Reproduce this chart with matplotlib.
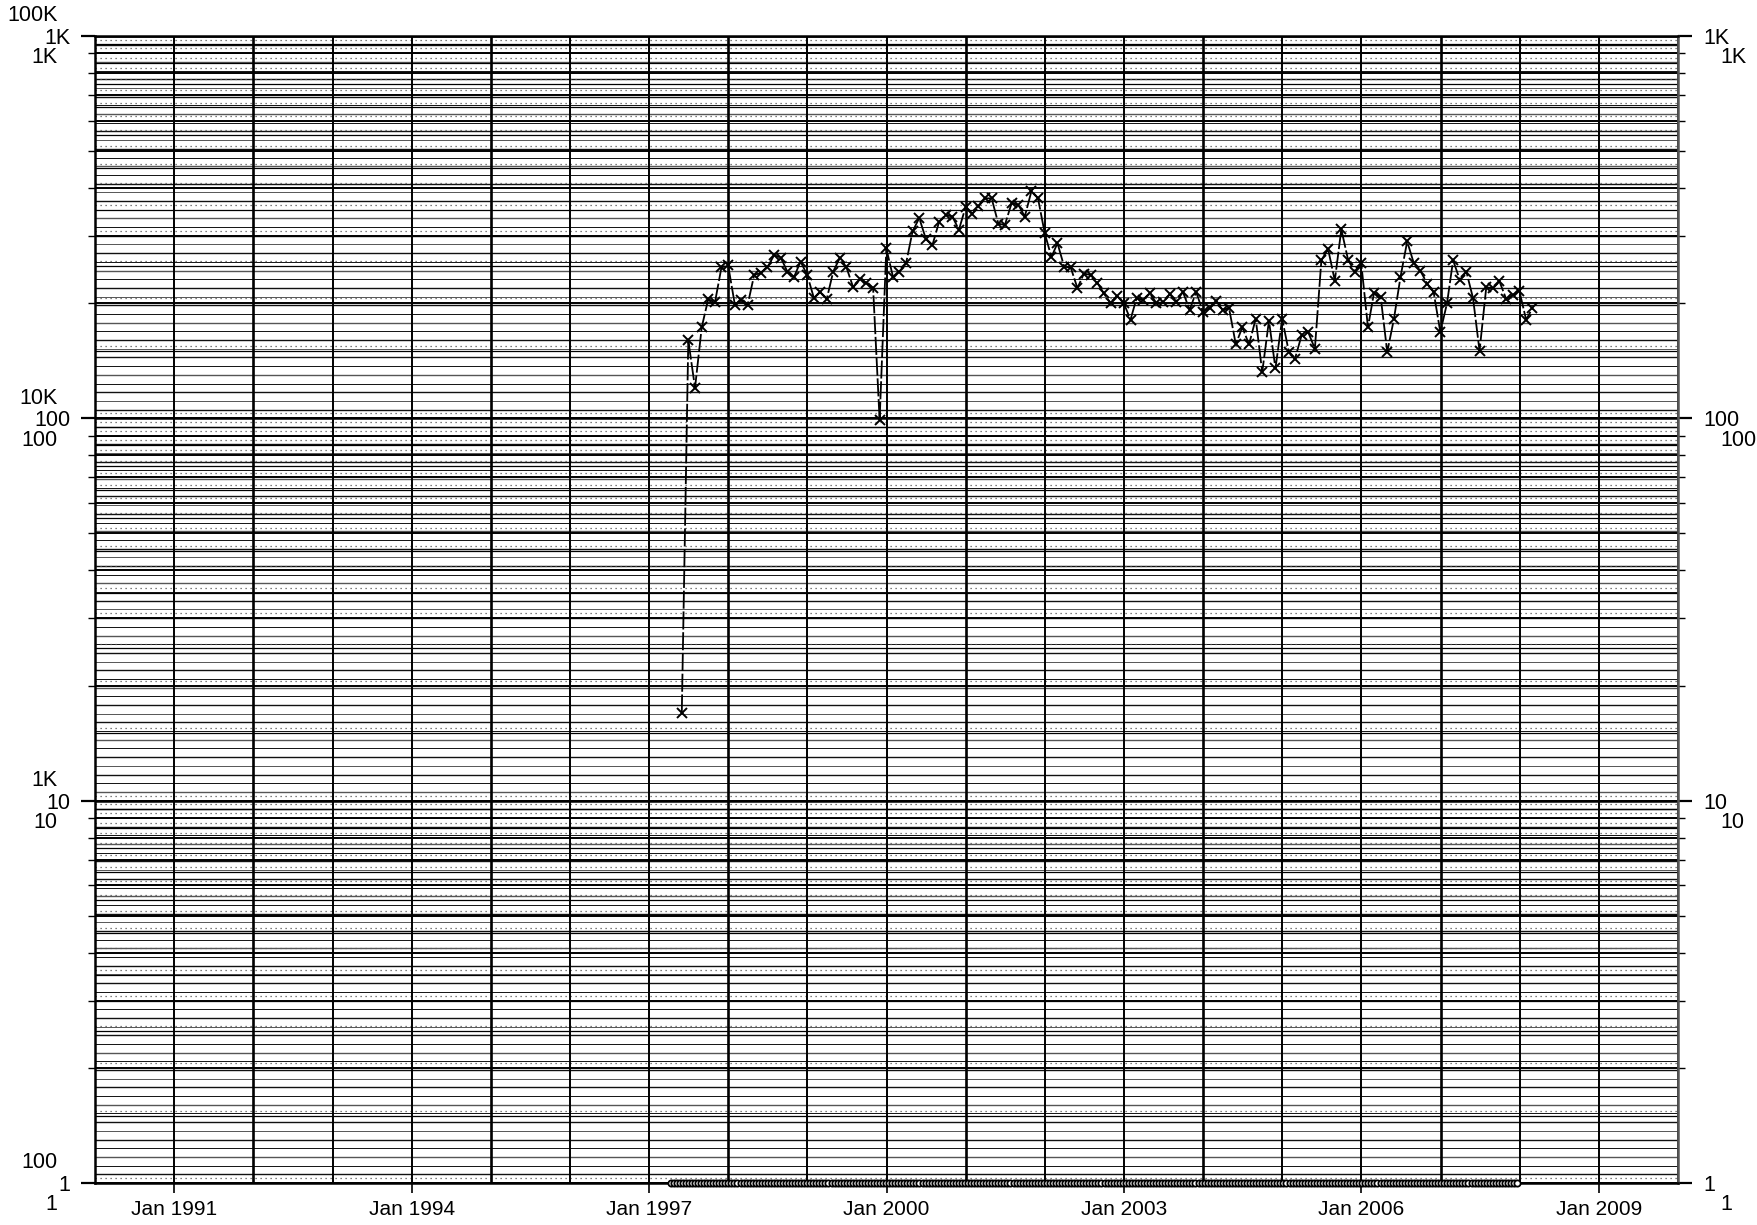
import numpy as np
import pandas as pd
import matplotlib
matplotlib.use("Agg")
import matplotlib.pyplot as plt
from matplotlib import ticker
from matplotlib.transforms import offset_copy

plt.rcParams['font.family'] = ['Liberation Sans', 'DejaVu Sans']

# monthly series, first point end of May 1997
series_start = '1997-05-31'
series_values = [
    17, 160, 120, 173, 205, 201, 248, 251,
    198, 204, 198, 237, 240, 248, 267, 263, 242, 234, 257, 237,
    206, 214, 205, 242, 263, 248, 220, 231, 226, 219, 99, 278,
    234, 242, 254, 308, 334, 295, 284, 327, 340, 337, 311, 357,
    343, 358, 376, 376, 323, 320, 365, 362, 337, 393, 376, 305,
    264, 287, 249, 248, 219, 239, 237, 226, 212, 200, 209, 200,
    181, 206, 204, 212, 200, 201, 211, 202, 214, 192, 214, 190,
    194, 203, 192, 194, 156, 173, 156, 182, 132, 180, 135, 182,
    149, 143, 165, 168, 152, 259, 277, 229, 312, 260, 242, 254,
    173, 213, 207, 149, 182, 234, 290, 254, 243, 225, 214, 168,
    200, 259, 230, 242, 206, 150, 220, 219, 228, 205, 210, 215,
    181, 194,
]

# series sitting on the floor of the log axis
floor_start = '1997-04-10'
floor_end = '2007-12-31'
floor_level = 1

x_ticks = ['1991-01-01', '1994-01-01', '1997-01-01', '2000-01-01',
           '2003-01-01', '2006-01-01', '2009-01-01']
x_tick_labels = ['Jan 1991', 'Jan 1994', 'Jan 1997', 'Jan 2000',
                 'Jan 2003', 'Jan 2006', 'Jan 2009']
y_ticks = [1, 10, 100, 1000]
y_labels = ['1', '10', '100', '1K']
y_labels_low = ['1', '10', '100', '1K']
y_labels_high = ['100', '1K', '10K', '100K']

series_dates = pd.date_range(series_start, periods=len(series_values), freq='ME')
floor_dates = pd.date_range(floor_start, floor_end, freq='14D')
floor_values = np.full(len(floor_dates), floor_level)

fig = plt.figure(figsize=(17.58, 12.25), dpi=100)
ax = fig.add_axes([95.3 / 1758, 1 - 1183 / 1225, (1678 - 95.3) / 1758, (1183 - 35.9) / 1225])
ax.set_yscale('log')
ax.set_ylim(1, 1000)
ax.set_xlim(pd.Timestamp('1990-01-01'), pd.Timestamp('2010-01-01'))

# dense horizontal rules
log_rules = 10 ** np.arange(0, 3, 1 / 44)
for k, v in enumerate(log_rules):
    ax.axhline(v, color='#111111' if k % 3 else '#555555', lw=1.0 if k % 2 else 0.7, zorder=1)
for d in [1, 10, 100]:
    for k, m in enumerate(np.arange(1, 10, 0.5)):
        ax.axhline(d * m, color='black', lw=1.4 if k % 2 == 0 else 0.9, zorder=1)
        ax.axhline(d * m * 1.03, color='#555555', lw=0.9, ls=(0, (1, 3)), zorder=1)
for v in y_ticks:
    ax.axhline(v, color='black', lw=1.8, zorder=1)

# yearly verticals
for yr in range(1990, 2011):
    ax.axvline(pd.Timestamp(f'{yr}-01-01'), color='black',
               lw=1.9 if yr % 3 == 0 else 1.4, zorder=2)

ax.plot(series_dates, series_values, color='black', lw=1.3, ls=(0, (10, 1.5)),
        marker='x', markersize=6.5, markeredgewidth=1.4, zorder=4)
ax.plot(floor_dates, floor_values, color='black', lw=0.8, marker='o',
        markersize=4.5, markerfacecolor='white', markeredgewidth=1.3,
        clip_on=False, zorder=4)

ax.set_xticks([pd.Timestamp(t) for t in x_ticks], labels=x_tick_labels, fontsize=15)
ax.tick_params(axis='x', length=7, width=1.2, pad=5)

ax.yaxis.set_major_locator(ticker.FixedLocator(y_ticks))
ax.yaxis.set_major_formatter(ticker.FixedFormatter(y_labels))
ax.yaxis.set_minor_locator(ticker.LogLocator(base=10, subs=np.arange(2, 10)))
ax.yaxis.set_minor_formatter(ticker.NullFormatter())
ax.tick_params(axis='y', which='major', length=10, width=1.6, pad=8,
               labelsize=15.5, left=True, right=True, labelright=True)
ax.tick_params(axis='y', which='minor', length=5, width=1.0, left=True, right=True)

# offset label sets from the overlaid scales
ytr = ax.get_yaxis_transform()
low_tr = offset_copy(ytr, fig=fig, x=-38, y=-22, units='dots')
high_tr = offset_copy(ytr, fig=fig, x=-38, y=20, units='dots')
right_low_tr = offset_copy(ytr, fig=fig, x=42, y=-22, units='dots')
for v, lo, hi in zip(y_ticks, y_labels_low, y_labels_high):
    ax.text(0, v, lo, transform=low_tr, ha='right', va='center', fontsize=15.5, clip_on=False)
    ax.text(0, v, hi, transform=high_tr, ha='right', va='center', fontsize=15.5, clip_on=False)
    ax.text(1, v, lo, transform=right_low_tr, ha='left', va='center', fontsize=15.5, clip_on=False)

for side in ['left', 'right', 'top', 'bottom']:
    ax.spines[side].set_linewidth(1.8)
ax.spines['right'].set_color('#555555')

fig.savefig('out.png', dpi=100)
